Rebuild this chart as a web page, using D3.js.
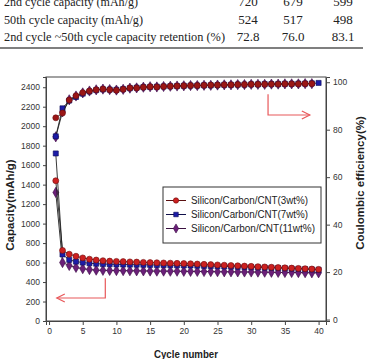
<!DOCTYPE html>
<html><head><meta charset="utf-8">
<script src="https://cdn.jsdelivr.net/npm/d3@7"></script>
<style>body{margin:0;background:#fff;}svg{display:block;}</style>
</head><body>
<svg id="c" width="369" height="359"></svg>
<script>
// ---- data ----
const tableRows = ["2nd cycle capacity (mAh/g)", "50th cycle capacity (mAh/g)", "2nd cycle ~50th cycle  capacity retention (%)"];
const tableVals = [["720","679","599"],["524","517","498"],["72.8","76.0","83.1"]];
const seriesNames = ["Silicon/Carbon/CNT(3wt%)", "Silicon/Carbon/CNT(7wt%)", "Silicon/Carbon/CNT(11wt%)"];
const capRed = [1440,725,686,665,648,635,626,619,615,612,610,607,605,602,600,598,596,594,592,590,588,585,582,579,576,573,570,567,564,561,558,555,552,549,546,543,540,537,534,530];
const capBlue = [1720,683,628,610,600,593,588,585,583,581,580,579,578,577,576,575,574,573,572,571,570,568,566,564,562,560,558,556,554,552,550,548,546,544,541,538,535,532,529,526];
const capPurple = [1320,600,570,550,537,528,522,520,519,518,517,516,515,514,513,512,512,511,511,510,509,509,508,507,506,505,505,504,503,503,502,501,500,499,498,498,497,496,495,495];
const effRed = [85.0,87.0,92.5,94.3,95.6,96.3,96.8,97.1,96.8,96.6,97.0,97.6,97.6,97.9,98.1,98.0,98.2,98.3,98.4,98.5,98.6,98.6,98.7,98.8,98.8,98.9,98.9,99.0,99.0,99.1,99.1,99.1,99.2,99.2,99.3,99.3,99.3,99.4,99.4];
const effBlue = [77.2,89.0,92.3,93.8,95.2,96.1,96.7,97.0,96.9,96.8,97.1,97.5,97.7,97.9,98.0,98.1,98.2,98.3,98.4,98.5,98.6,98.6,98.7,98.7,98.8,98.9,98.9,99.0,99.0,99.1,99.1,99.2,99.2,99.2,99.3,99.3,99.4,99.4,99.5,99.7];
const effPurple = [77.0,87.5,92.6,94.2,95.5,96.3,96.8,97.1,96.9,96.7,97.0,97.5,97.6,97.9,98.1,98.0,98.2,98.3,98.4,98.5,98.6,98.6,98.7,98.7,98.8,98.9,98.9,99.0,99.0,99.1,99.1,99.1,99.2,99.2,99.3,99.3,99.3,99.4,99.4];
const xTicks = [0,5,10,15,20,25,30,35,40];
const yLeftTicks = [0,200,400,600,800,1000,1200,1400,1600,1800,2000,2200,2400];
const yRightTicks = [0,20,40,60,80,100];
// annotation arrows in data units: [x_vertical, y_start, y_corner, x_tip]
const arrowLeft = [8.35, 440, 236, 1.15];
const arrowRight = [32.5, 94.9, 86.2, 38.7];

// ---- layout ----
const svg = d3.select("#c");
const L = 46, R = 326, T = 77, B = 321;
const x = d3.scaleLinear().domain([-0.45, 41.1]).range([L, R]);
const yL = d3.scaleLinear().domain([0, 2505]).range([B, T]);
const yR = d3.scaleLinear().domain([-0.6, 102.2]).range([B, T]);

// table
const tg = svg.append("g").attr("font-family", "Liberation Serif, Times New Roman, serif").attr("font-size", 13).attr("fill", "#222");
const rowY = [6, 24, 41];
const rowW = [134, 139, 221];
const colX = [248, 293, 343];
tableRows.forEach((r, i) => {
  tg.append("text").attr("x", 4).attr("y", rowY[i]).attr("textLength", rowW[i]).attr("lengthAdjust", "spacingAndGlyphs").text(r);
  tableVals[i].forEach((v, j) => tg.append("text").attr("x", colX[j]).attr("y", rowY[i]).attr("text-anchor", "middle").text(v));
});
svg.append("line").attr("x1", 0).attr("x2", 363).attr("y1", 48).attr("y2", 48).attr("stroke", "#555").attr("stroke-width", 1.5);

// frame
svg.append("rect").attr("x", L).attr("y", T).attr("width", R - L).attr("height", B - T).attr("fill", "none").attr("stroke", "#444").attr("stroke-width", 1);

const tickFont = "Liberation Sans, Arial, sans-serif";
const fmt = d3.format("d");
const ax = svg.append("g").attr("transform", `translate(0,${B})`).call(d3.axisBottom(x).tickValues(xTicks).tickFormat(fmt).tickSize(4).tickPadding(3));
const ayl = svg.append("g").attr("transform", `translate(${L},0)`).call(d3.axisLeft(yL).tickValues(yLeftTicks).tickFormat(fmt).tickSize(3).tickPadding(3));
const ayr = svg.append("g").attr("transform", `translate(${R},0)`).call(d3.axisRight(yR).tickValues(yRightTicks).tickFormat(fmt).tickSize(4).tickPadding(3));
[ax, ayl, ayr].forEach(g => {
  g.select(".domain").attr("stroke", "#444");
  g.selectAll(".tick line").attr("stroke", "#444");
  g.selectAll("text").attr("font-family", tickFont).attr("font-size", 8.5).attr("fill", "#333");
});

// axis titles
const titleFont = "Liberation Sans, Arial, sans-serif";
svg.append("text").attr("transform", `translate(14,205) rotate(-90)`).attr("text-anchor", "middle")
  .attr("font-family", titleFont).attr("font-weight", "bold").attr("font-size", 11.5).attr("fill", "#222").text("Capacity(mAh/g)");
svg.append("text").attr("transform", `translate(364,183) rotate(-90)`).attr("text-anchor", "middle")
  .attr("font-family", titleFont).attr("font-weight", "bold").attr("font-size", 11.5).attr("fill", "#222").text("Coulombic efficiency(%)");
svg.append("text").attr("x", 186).attr("y", 358).attr("text-anchor", "middle")
  .attr("font-family", titleFont).attr("font-weight", "bold").attr("font-size", 11).attr("fill", "#222")
  .attr("textLength", 64).attr("lengthAdjust", "spacingAndGlyphs").text("Cycle number");

// series
const styles = [
  {fill: "#cc2020", stroke: "#6e0b0b", shape: d3.symbolCircle, size: 28, line: "#5a1010"},
  {fill: "#1c1ca8", stroke: "#0a0a55", shape: d3.symbolSquare, size: 26, line: "#10104a"},
  {fill: "#6a1f78", stroke: "#3a0a45", shape: d3.symbolDiamond, size: 30, line: "#3a1040"}
];
const capSeries = [capRed, capBlue, capPurple];
const effSeries = [effRed, effBlue, effPurple];
const plot = svg.append("g");
const order = [2, 1, 0];
function drawSeries(vals, yS, st) {
  const pts = vals.map((v, i) => [i + 1, v]);
  plot.append("path").datum(pts).attr("fill", "none").attr("stroke", "#222").attr("stroke-width", 0.9)
    .attr("d", d3.line().x(d => x(d[0])).y(d => yS(d[1])));
  plot.selectAll(null).data(pts).enter().append("path")
    .attr("transform", d => `translate(${x(d[0])},${yS(d[1])})`)
    .attr("d", d3.symbol().type(st.shape).size(st.size))
    .attr("fill", st.fill).attr("stroke", st.stroke).attr("stroke-width", 0.6);
}
order.forEach(i => drawSeries(capSeries[i], yL, styles[i]));
order.forEach(i => drawSeries(effSeries[i], yR, Object.assign({}, styles[i], i === 0 ? {fill: "#9a1616"} : {})));

// legend
const lg = svg.append("g");
lg.append("rect").attr("x", 163).attr("y", 187).attr("width", 158).attr("height", 56).attr("fill", "#fff").attr("stroke", "#333").attr("stroke-width", 1);
seriesNames.forEach((n, i) => {
  const yy = 200.5 + i * 14;
  lg.append("line").attr("x1", 166).attr("x2", 186).attr("y1", yy).attr("y2", yy).attr("stroke", styles[i].line).attr("stroke-width", 1);
  lg.append("path").attr("transform", `translate(176,${yy})`).attr("d", d3.symbol().type(styles[i].shape).size(styles[i].size * 0.8))
    .attr("fill", styles[i].fill).attr("stroke", styles[i].stroke).attr("stroke-width", 0.6);
  lg.append("text").attr("x", 191).attr("y", yy + 3.5).attr("font-family", tickFont).attr("font-size", 10).attr("fill", "#222")
    .attr("textLength", i === 2 ? 124 : 117).attr("lengthAdjust", "spacingAndGlyphs").text(n);
});

// arrows
function arrow(a, yS) {
  const xv = x(a[0]), y0 = yS(a[1]), y1 = yS(a[2]), xt = x(a[3]);
  const dir = Math.sign(xt - xv);
  const g = svg.append("g").attr("fill", "none").attr("stroke", "#e8585a").attr("stroke-width", 1.2);
  g.append("path").attr("d", `M${xv},${y0}V${y1}H${xt}`);
  g.append("path").attr("d", `M${xt - dir * 8},${y1 - 4}L${xt},${y1}L${xt - dir * 8},${y1 + 4}`);
}
arrow(arrowLeft, yL);
arrow(arrowRight, yR);
</script>
</body></html>
